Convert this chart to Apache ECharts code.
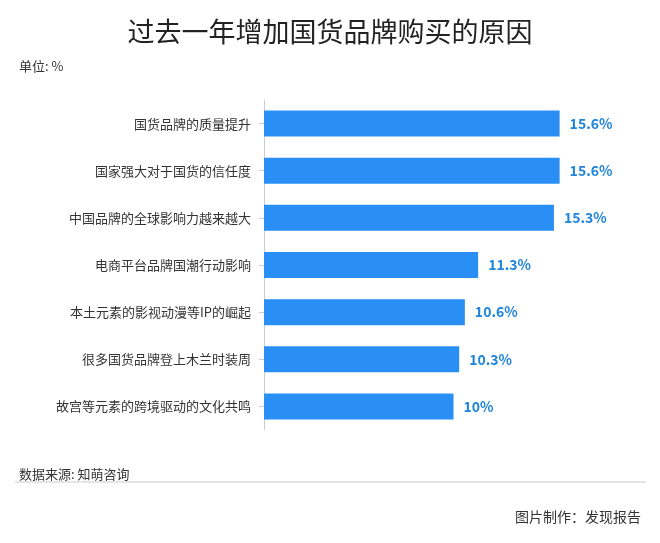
<!DOCTYPE html>
<html>
<head>
<meta charset="utf-8">
<script src="https://cdn.jsdelivr.net/npm/echarts@6/dist/echarts.min.js"></script>
<style>
  html, body { margin: 0; padding: 0; background: #fff; }
  #chart { width: 660px; height: 543px; }
</style>
</head>
<body>
<div id="chart"></div>
<script>
// 原因（自上而下）
const reasons = [
  '国货品牌的质量提升',
  '国家强大对于国货的信任度',
  '中国品牌的全球影响力越来越大',
  '电商平台品牌国潮行动影响',
  '本土元素的影视动漫等IP的崛起',
  '很多国货品牌登上木兰时装周',
  '故宫等元素的跨境驱动的文化共鸣'
]
const shares = [15.6, 15.6, 15.3, 11.3, 10.6, 10.3, 10]

const font = '"Noto Sans CJK SC", "Noto Sans", sans-serif'
const chart = echarts.init(document.getElementById('chart'))

const option = {
  animation: false,
  title: [
    {
      text: '过去一年增加国货品牌购买的原因',
      left: 'center',
      top: 13,
      textStyle: { fontFamily: font, fontSize: 27, fontWeight: 'normal', color: '#222' }
    },
    {
      text: '单位: %',
      left: 14,
      top: 55,
      textStyle: { fontFamily: font, fontSize: 13, fontWeight: 'normal', color: '#333' }
    },
    {
      text: '数据来源: 知萌咨询',
      left: 14,
      top: 463,
      textStyle: { fontFamily: font, fontSize: 13, fontWeight: 'normal', color: '#333' }
    },
    {
      text: '图片制作：发现报告',
      right: 14,
      top: 505,
      textStyle: { fontFamily: font, fontSize: 14, fontWeight: 'normal', color: '#333' }
    }
  ],
  graphic: [
    {
      type: 'line',
      shape: { x1: 15, y1: 482, x2: 646, y2: 482 },
      style: { stroke: '#ddd', lineWidth: 1.5 }
    }
  ],
  grid: { left: 264, right: 17, top: 100, bottom: 113 },
  xAxis: {
    type: 'value',
    min: 0,
    max: 20,
    show: false
  },
  yAxis: {
    type: 'category',
    inverse: true,
    data: reasons,
    axisLine: { lineStyle: { color: '#ccc', width: 1 } },
    axisTick: { show: true, length: 5, alignWithLabel: true, lineStyle: { color: '#ccc' } },
    axisLabel: { fontFamily: font, fontSize: 13, color: '#333', margin: 13 }
  },
  series: [
    {
      type: 'bar',
      data: shares,
      barWidth: 26,
      itemStyle: { color: '#2a8ff5' },
      label: {
        show: true,
        position: 'right',
        distance: 10,
        formatter: '{c}%',
        fontFamily: font,
        fontSize: 14,
        fontWeight: 'bold',
        color: '#1f84dc'
      }
    }
  ]
}

chart.setOption(option)
</script>
</body>
</html>
